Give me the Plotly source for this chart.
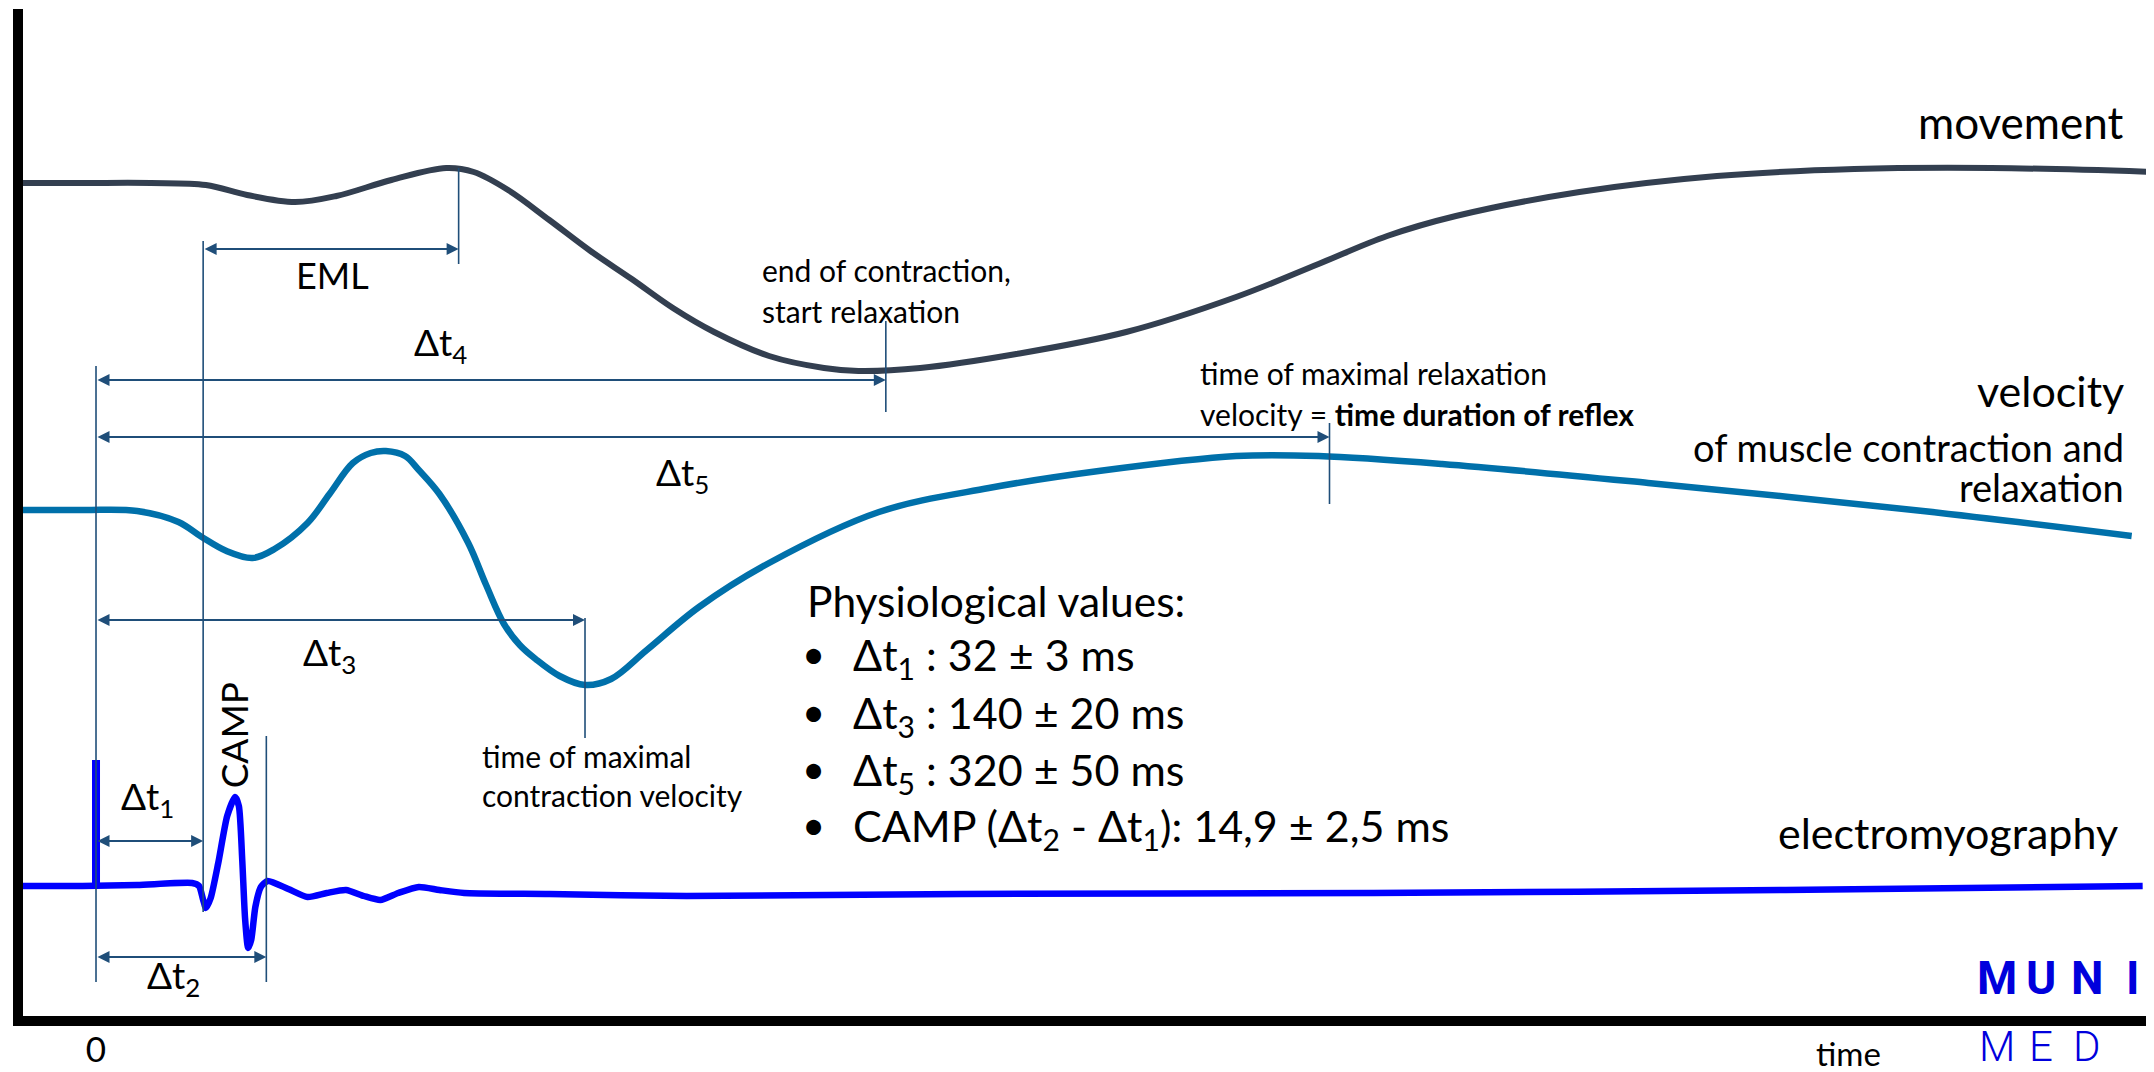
import plotly.graph_objects as go

# ---------------- data (time in ms after stimulus, signals in arbitrary units) ----------------
t_move = [-24, -4, 16, 32, 44, 58, 70, 86, 102, 110, 120, 132, 144, 156, 168, 180, 196, 212,
          222, 240, 268, 300, 332, 356, 376, 396, 432, 472, 512, 552, 600]
v_move = [83.3, 83.3, 83.3, 83.1, 82.1, 81.4, 82.0, 83.6, 84.8, 84.4, 82.6, 79.6, 76.5, 73.7,
          70.8, 68.4, 66.0, 64.8, 64.5, 64.8, 66.2, 68.4, 71.9, 75.2, 78.0, 80.0, 82.4, 84.0,
          84.7, 84.8, 84.4]

t_vel = [-24, -4, 12, 24, 30.8, 38, 45.6, 52, 61.6, 68, 74.8, 80, 84.4, 90, 94, 100, 108.4,
         113.6, 118.8, 123.4, 128, 135, 142.4, 150, 160.4, 175.6, 196, 228, 260, 292, 332, 356,
         392, 452, 532, 592.8]
v_vel = [50.6, 50.6, 50.5, 49.4, 47.9, 46.5, 45.8, 46.7, 49.3, 52.2, 55.3, 56.3, 56.5, 56.0,
         54.6, 52.2, 47.3, 43.1, 39.2, 37.1, 35.7, 34.0, 33.1, 33.7, 36.6, 40.9, 45.3, 50.4,
         52.8, 54.5, 56.0, 56.0, 55.2, 53.3, 50.5, 48.0]

t_emg = [-24, -4, 12, 28, 30, 31.2, 32, 33.4, 35.6, 38.2, 40.5, 41.6, 42.6, 43.4, 44.3, 45.2,
         46.4, 48, 50, 56, 61.6, 67.2, 72.8, 78, 82.8, 88, 94, 100, 107.2, 132, 172, 252, 372,
         492, 596]
v_emg = [13.0, 13.0, 13.1, 13.3, 13.0, 11.6, 10.8, 11.8, 15.3, 20.0, 21.9, 21.0, 15.5, 9.8,
         6.8, 7.6, 10.9, 12.9, 13.5, 12.7, 11.9, 12.3, 12.6, 12.0, 11.6, 12.3, 12.9, 12.6, 12.3,
         12.2, 12.0, 12.2, 12.3, 12.6, 13.0]

t_stim = [0, 0]
v_stim = [13.0, 25.6]

# marker times (ms) and vertical extents of the guide lines
guide_t = [0, 31.2, 49.6, 105.6, 142.4, 230, 359.2]
guide_lo = [3.4, 10.4, 3.4, 75.2, 27.8, 60.4, 51.2]
guide_hi = [65.0, 77.5, 28.0, 84.8, 39.8, 69.5, 59.3]

# interval arrows: start, end, level
arrow_start = [31.2, 0, 0, 0, 0, 0]
arrow_end = [105.6, 230, 359.2, 142.4, 31.2, 49.6]
arrow_level = [76.7, 63.6, 57.9, 39.6, 17.5, 5.9]

# physiological values list
rows = ["\u0394t<sub>1</sub> : 32 \u00b1 3 ms",
        "\u0394t<sub>3</sub> : 140 \u00b1 20 ms",
        "\u0394t<sub>5</sub> : 320 \u00b1 50 ms",
        "CAMP (\u0394t<sub>2</sub> - \u0394t<sub>1</sub>): 14,9 \u00b1 2,5 ms"]

FONT = "Lato, Calibri, Carlito, sans-serif"
LOGO_FONT = "Roboto, sans-serif"
C_MOVE = "#333F50"
C_VEL = "#0070AA"
C_EMG = "#0000FF"
C_GUIDE = "#1F4E79"
C_LOGO = "#0000DC"

fig = go.Figure()
fig.add_trace(go.Scatter(x=t_move, y=v_move, mode="lines",
                         line=dict(color=C_MOVE, width=6, shape="spline", smoothing=1.0)))
fig.add_trace(go.Scatter(x=t_vel, y=v_vel, mode="lines",
                         line=dict(color=C_VEL, width=6.5, shape="spline", smoothing=1.0)))
fig.add_trace(go.Scatter(x=t_emg, y=v_emg, mode="lines",
                         line=dict(color=C_EMG, width=6.5, shape="spline", smoothing=0.6)))
fig.add_trace(go.Scatter(x=t_stim, y=v_stim, mode="lines",
                         line=dict(color=C_EMG, width=8)))

shapes = []
for t, lo, hi in zip(guide_t, guide_lo, guide_hi):
    shapes.append(dict(type="line", xref="x", yref="y", x0=t, x1=t, y0=lo, y1=hi,
                       line=dict(color=C_GUIDE, width=1.6)))

annotations = []
for s, e, lv in zip(arrow_start, arrow_end, arrow_level):
    annotations.append(dict(x=e, y=lv, ax=s, ay=lv, xref="x", yref="y", axref="x", ayref="y",
                            text="", showarrow=True, arrowhead=2, arrowside="end+start",
                            arrowwidth=2, arrowsize=1.2, arrowcolor=C_GUIDE,
                            standoff=0, startstandoff=0))


def txt(text, x, y, size, xanchor="center", yanchor="middle", angle=0, xref="x", yref="y",
        color="black", family=FONT, weight="normal"):
    annotations.append(dict(text=text, x=x, y=y, xref=xref, yref=yref, showarrow=False,
                            xanchor=xanchor, yanchor=yanchor, textangle=angle,
                            font=dict(family=family, size=size, color=color, weight=weight)))


# curve labels
txt("movement", 591.0, 89.4, 44, xanchor="right")
txt("velocity", 591.0, 62.6, 43, xanchor="right")
txt("of muscle contraction and", 591.0, 56.9, 38, xanchor="right")
txt("relaxation", 591.0, 52.9, 38, xanchor="right")
txt("electromyography", 589.5, 18.4, 43, xanchor="right")

# interval labels
txt("EML", 69.0, 74.1, 36)
txt("\u0394t<sub>4</sub>", 100.2, 67.2, 37)
txt("\u0394t<sub>5</sub>", 170.9, 54.2, 37)
txt("\u0394t<sub>3</sub>", 67.9, 36.2, 37)
txt("\u0394t<sub>1</sub>", 15.0, 21.8, 37)
txt("\u0394t<sub>2</sub>", 22.7, 3.9, 37)
txt("CAMP", 40.0, 28.1, 37, angle=-90)

# event notes
txt("end of contraction,", 193.4, 74.6, 30, xanchor="left")
txt("start relaxation", 193.4, 70.5, 30, xanchor="left")
txt("time of maximal relaxation", 320.9, 64.3, 30, xanchor="left")
txt("velocity = <b>time duration of reflex</b>", 320.9, 60.2, 30, xanchor="left")
txt("time of maximal", 111.8, 26.0, 30, xanchor="left")
txt("contraction velocity", 111.8, 22.1, 30, xanchor="left")

# physiological values
txt("Physiological values:", 206.5, 41.6, 42.5, xanchor="left")
row_v = [35.9, 30.1, 24.4, 18.8]
for r, rv in zip(rows, row_v):
    txt("\u2022", 208.8, rv + 0.3, 40)
    txt(r, 220.0, rv, 43, xanchor="left")

# axis caption and logo (below the plot area)
txt("time", 510.2, -0.037, 33, xref="x", yref="paper")
muni_x = [1997, 2041, 2087, 2132]
for ch, px in zip("MUNI", muni_x):
    txt(ch, (px - 23) / 2131, 0.0377, 46, xref="paper", yref="paper", color=C_LOGO,
        family=LOGO_FONT, weight="bold")
for ch, px in zip("MED", muni_x[:3]):
    txt(ch, (px - 23) / 2131, -0.030, 42, xref="paper", yref="paper", color=C_LOGO,
        family=LOGO_FONT, weight=300)

# the page body has an 8px default margin, so the figure is 8px smaller than the window
fig.update_layout(
    width=2146, height=1064,
    margin=dict(l=15, r=0, t=1, b=56),
    paper_bgcolor="white", plot_bgcolor="white",
    showlegend=False,
    shapes=shapes,
    annotations=annotations,
    xaxis=dict(range=[-21.26, 599.3], showgrid=False, zeroline=False, showline=True,
               linewidth=10, linecolor="black", ticks="", tickvals=[0], ticktext=["0"],
               ticklabelstandoff=-6,
               tickfont=dict(family=FONT, size=35, color="black"), automargin=False),
    yaxis=dict(range=[0, 100.7], showgrid=False, zeroline=False, showline=True,
               linewidth=10, linecolor="black", ticks="", showticklabels=False,
               automargin=False),
)

fig.write_html("out.html")
